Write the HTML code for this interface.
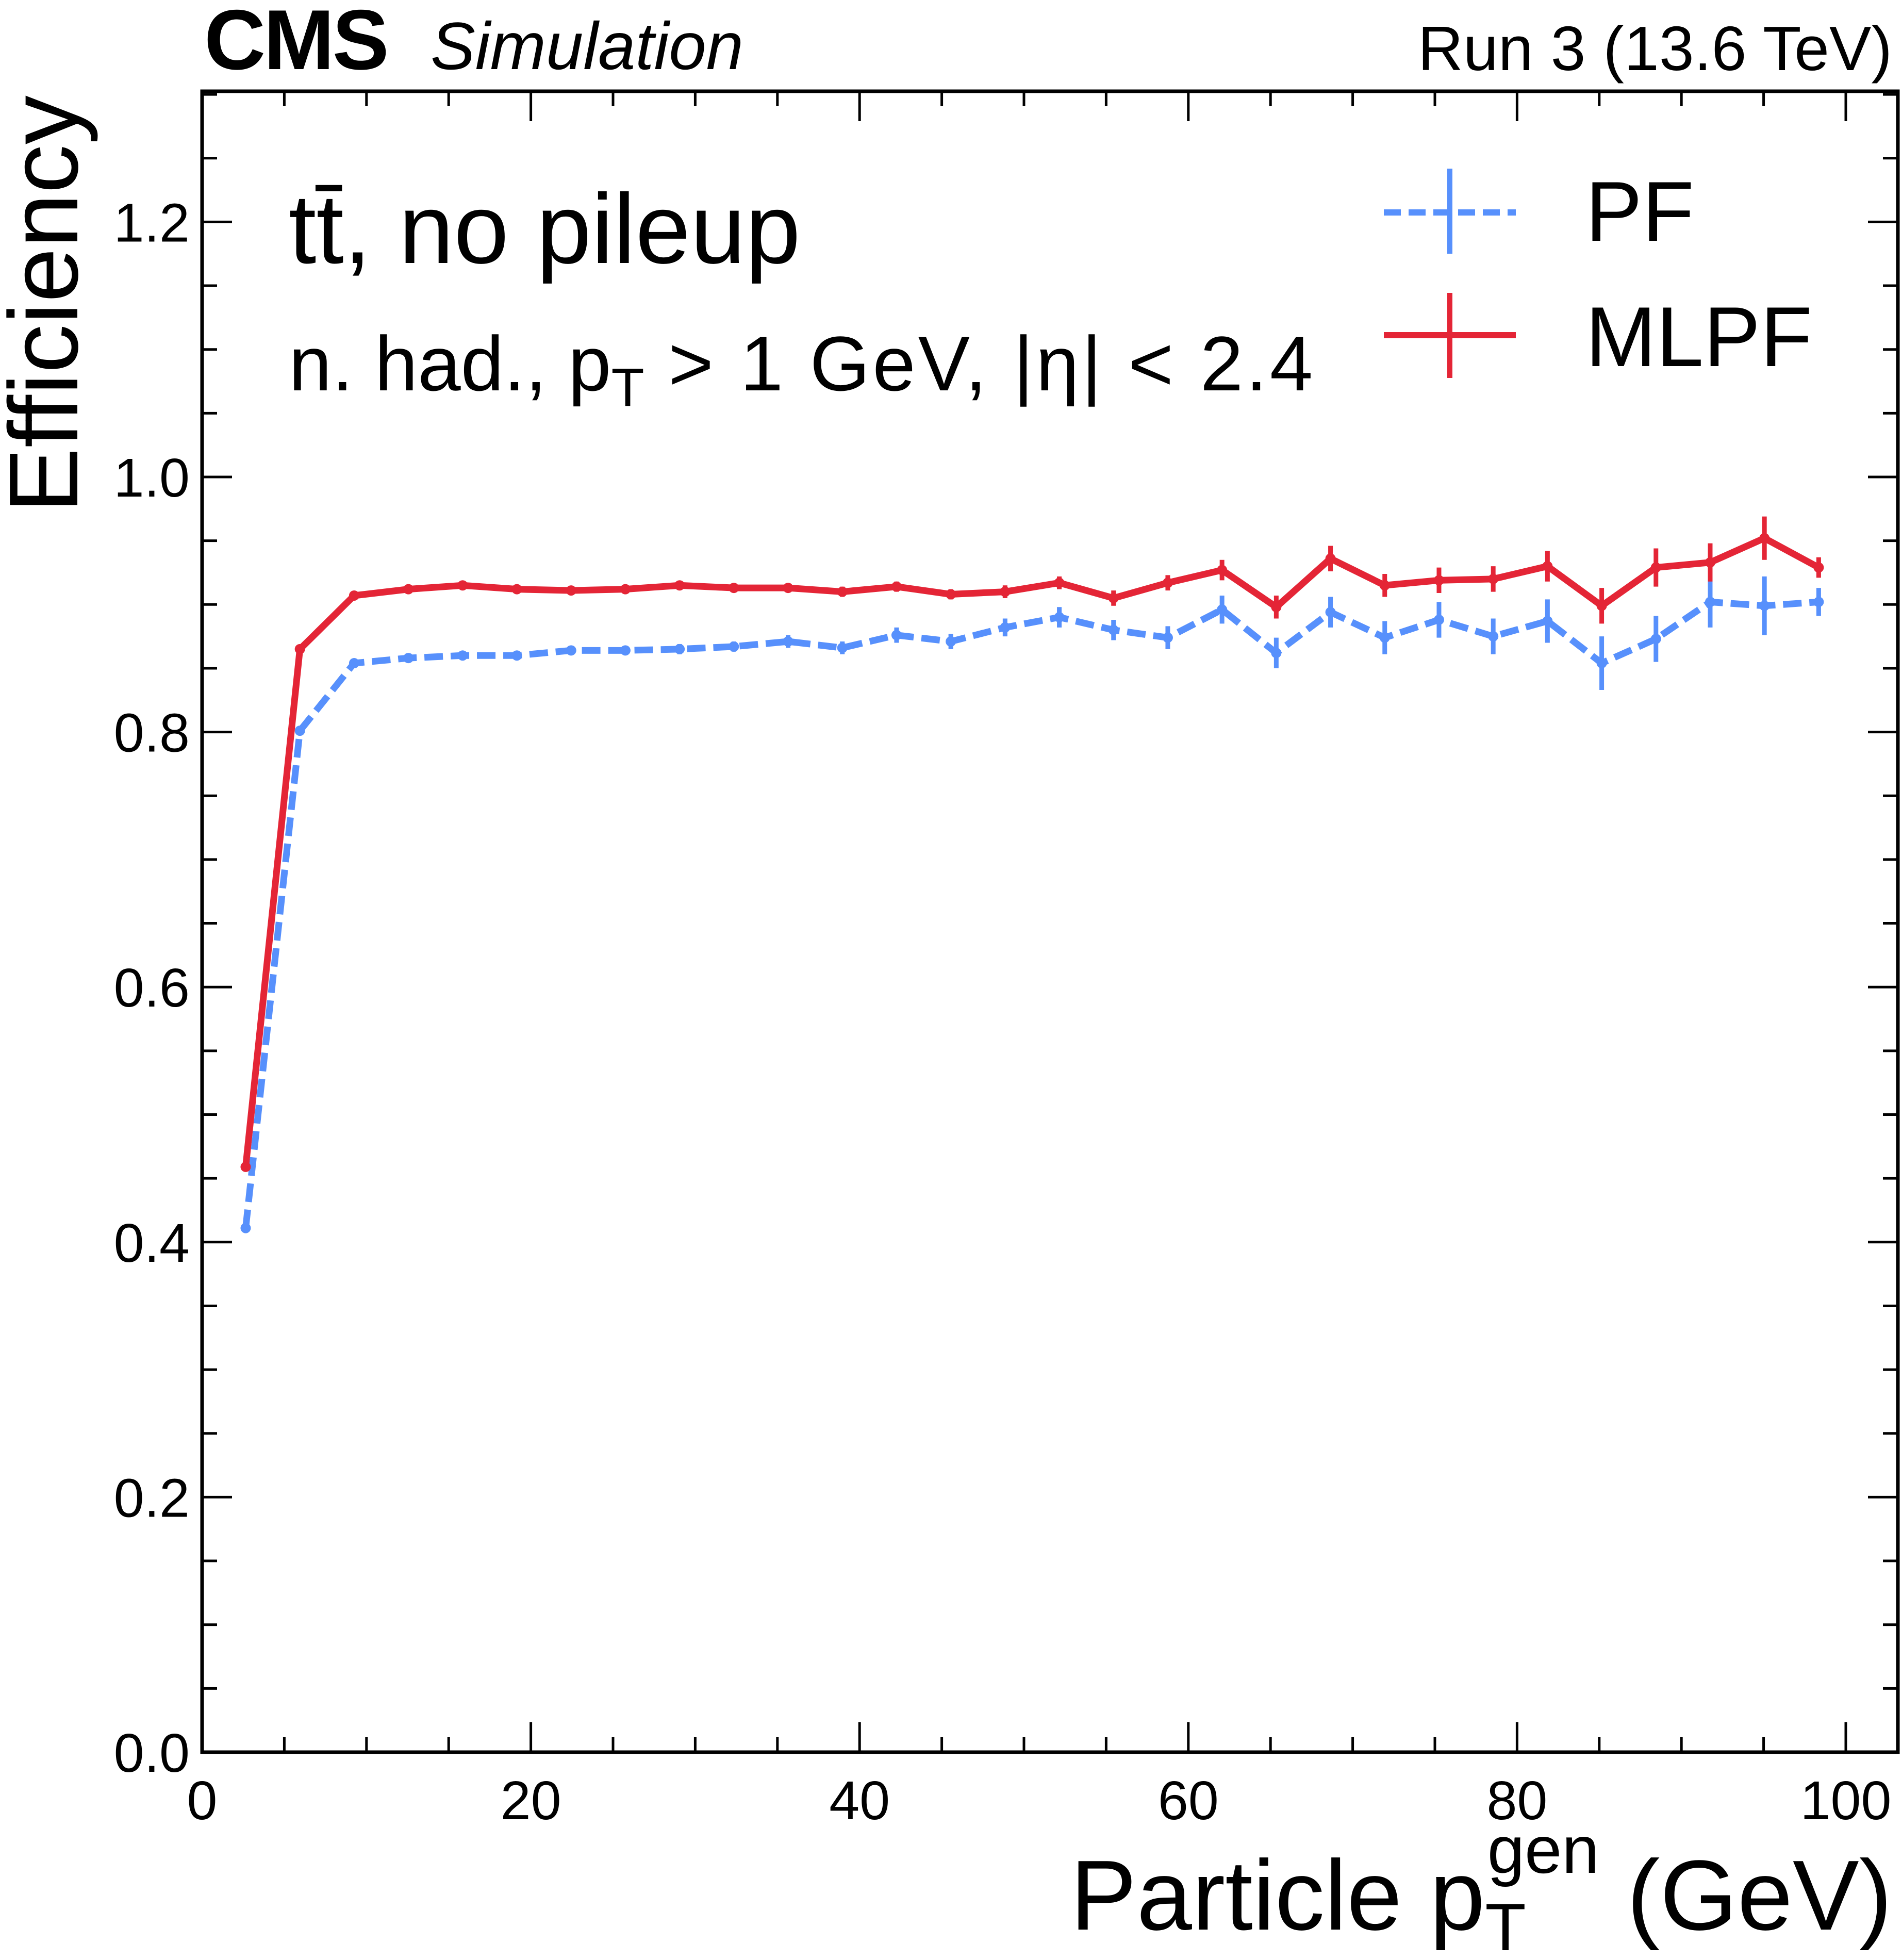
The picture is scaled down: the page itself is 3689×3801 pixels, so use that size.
<!DOCTYPE html>
<html><head><meta charset="utf-8"><style>
html,body{margin:0;padding:0;background:#fff;}
svg{display:block;font-family:"Liberation Sans",sans-serif;}
</style></head><body>
<svg id="chart" width="3689" height="3801" viewBox="0 0 3689 3801" xmlns="http://www.w3.org/2000/svg">
<g id="ticks"></g>
<g id="labels" font-size="106" fill="#000"></g>
<g id="series"></g>
<rect x="392" y="177" width="3289" height="3221" fill="none" stroke="#000" stroke-width="7"/>
<text x="396" y="134" font-size="165" font-weight="bold" letter-spacing="-4">CMS</text>
<text x="835" y="134" font-size="130" font-style="italic">Simulation</text>
<text x="3670" y="136" font-size="122" text-anchor="end">Run 3 (13.6 TeV)</text>
<text transform="translate(150,590) rotate(-90)" font-size="190" text-anchor="middle">Efficiency</text>
<text x="3670" y="3742" font-size="193" text-anchor="end">Particle p<tspan font-size="130" dy="40">T</tspan><tspan font-size="130" dx="-75" dy="-150">gen</tspan><tspan dy="110"> (GeV)</tspan></text>
<text x="560" y="510" font-size="192">tt̄, no pileup</text>
<text x="560" y="757" font-size="150">n. had., p<tspan font-size="105" dy="30">T</tspan><tspan dy="-30" letter-spacing="5"> &gt; 1 GeV, |η| &lt; 2.4</tspan></text>
<g>
<g>
<line x1="2684" y1="412" x2="2940" y2="412" stroke="#5790fc" stroke-width="12" stroke-dasharray="33,15"/>
<line x1="2812" y1="327" x2="2812" y2="492" stroke="#5790fc" stroke-width="10"/>
<text x="3075" y="467" font-size="165">PF</text>
</g>
<g>
<line x1="2684" y1="650" x2="2940" y2="650" stroke="#e42536" stroke-width="12"/>
<line x1="2812" y1="568" x2="2812" y2="733" stroke="#e42536" stroke-width="10"/>
<text x="3075" y="710" font-size="165">MLPF</text>
</g>
</g>
</svg>
<script>
const xCenters=[2.65,5.95,9.25,12.55,15.85,19.15,22.45,25.75,29.05,32.35,35.65,38.95,42.25,45.55,48.85,52.15,55.45,58.75,62.05,65.35,68.65,71.95,75.25,78.55,81.85,85.15,88.45,91.75,95.05,98.35];
const pfValues=[0.411,0.801,0.854,0.858,0.860,0.860,0.864,0.864,0.865,0.867,0.871,0.866,0.876,0.871,0.882,0.890,0.880,0.874,0.896,0.862,0.894,0.874,0.888,0.875,0.887,0.854,0.873,0.902,0.899,0.902];
const pfErrors=[0.002,0.002,0.002,0.002,0.002,0.003,0.003,0.003,0.004,0.004,0.005,0.005,0.006,0.006,0.007,0.008,0.008,0.009,0.011,0.012,0.012,0.013,0.014,0.014,0.017,0.021,0.018,0.02,0.023,0.011];
const mlpfValues=[0.459,0.865,0.907,0.912,0.915,0.912,0.911,0.912,0.915,0.913,0.913,0.910,0.914,0.908,0.910,0.917,0.905,0.917,0.927,0.898,0.936,0.915,0.919,0.920,0.930,0.899,0.929,0.933,0.952,0.929];
const mlpfErrors=[0.002,0.002,0.002,0.002,0.002,0.002,0.002,0.003,0.003,0.003,0.003,0.004,0.004,0.004,0.005,0.005,0.006,0.006,0.008,0.009,0.01,0.009,0.01,0.01,0.012,0.014,0.015,0.015,0.017,0.008];
const xTicks=[0,20,40,60,80,100];
const yTicks=[0.0,0.2,0.4,0.6,0.8,1.0,1.2];

const NS="http://www.w3.org/2000/svg";
const L=392,R=3681,T=177,B=3398;
const xs=v=>392+v*31.88;
const ys=v=>3398-v*2473;
function mk(tag,attrs,parent){const e=document.createElementNS(NS,tag);for(const k in attrs)e.setAttribute(k,attrs[k]);parent.appendChild(e);return e;}
const tg=document.getElementById('ticks'),lg=document.getElementById('labels'),sg=document.getElementById('series');
for(let v=0;v<=103;v+=5){
  const major=v%20===0, len=major?58:29, x=xs(v);
  let t=mk('line',{x1:x,y1:B,x2:x,y2:B-len,stroke:'#000','stroke-width':5},tg);
  
  
  t=mk('line',{x1:x,y1:T,x2:x,y2:T+len,stroke:'#000','stroke-width':5},tg);
  
  
}
for(let i=0;i<=26;i++){
  const v=i*0.05, major=i%4===0, len=major?58:29, y=ys(v);
  let t=mk('line',{x1:L,y1:y,x2:L+len,y2:y,stroke:'#000','stroke-width':5},tg);
  
  
  t=mk('line',{x1:R,y1:y,x2:R-len,y2:y,stroke:'#000','stroke-width':5},tg);
  
  
}
xTicks.forEach(v=>{
  const t=mk('text',{x:xs(v),y:3528,'text-anchor':'middle'},lg);t.textContent=v;
  
  
});
yTicks.forEach(v=>{
  const t=mk('text',{x:368,y:ys(v)+38,'text-anchor':'end'},lg);t.textContent=v.toFixed(1);
  
  
});
function series(vals,errs,color,dash,name){
  const g=mk('g',{},sg);
  
  
  const pts=vals.map((v,i)=>xs(xCenters[i])+','+ys(v)).join(' ');
  const pl=mk('polyline',{points:pts,fill:'none',stroke:color,'stroke-width':13,'stroke-linejoin':'round'},g);
  if(dash)pl.setAttribute('stroke-dasharray',dash);
  
  
  vals.forEach((v,i)=>{
    const x=xs(xCenters[i]);
    const e=mk('line',{x1:x,y1:ys(v+errs[i]),x2:x,y2:ys(v-errs[i]),stroke:color,'stroke-width':9},g);
    
    
    const c=mk('circle',{cx:x,cy:ys(v),r:10,fill:color},g);
    
    
  });
}
series(pfValues,pfErrors,'#5790fc','36,15','pf');
series(mlpfValues,mlpfErrors,'#e42536',null,'mlpf');
</script>
</body></html>
